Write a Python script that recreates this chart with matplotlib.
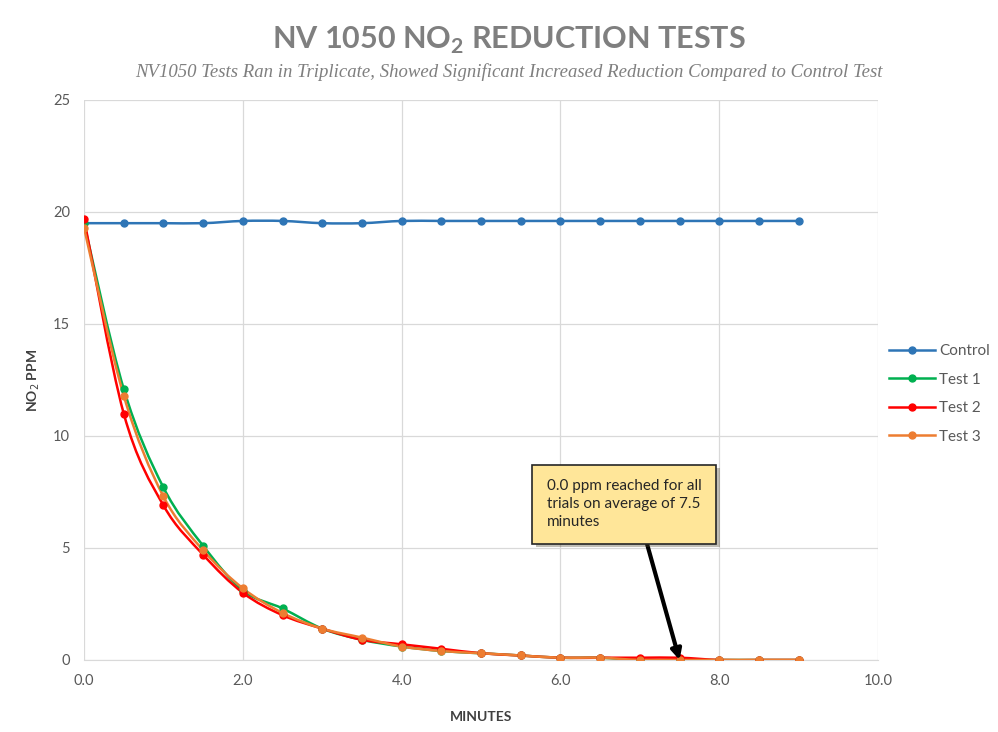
import numpy as np
import matplotlib
matplotlib.use("Agg")
import matplotlib.pyplot as plt
import matplotlib.patheffects as pe
from matplotlib.path import Path
from matplotlib.patches import PathPatch

# data
minutes = [0.0, 0.5, 1.0, 1.5, 2.0, 2.5, 3.0, 3.5, 4.0, 4.5, 5.0, 5.5, 6.0, 6.5, 7.0, 7.5, 8.0, 8.5, 9.0]
control = [19.5, 19.5, 19.5, 19.5, 19.6, 19.6, 19.5, 19.5, 19.6, 19.6, 19.6, 19.6, 19.6, 19.6, 19.6, 19.6, 19.6, 19.6, 19.6]
test1 = [19.5, 12.1, 7.7, 5.1, 3.1, 2.3, 1.4, 0.9, 0.6, 0.4, 0.3, 0.2, 0.1, 0.1, 0.0, 0.0, 0.0, 0.0, 0.0]
test2 = [19.7, 11.0, 6.9, 4.7, 3.0, 2.0, 1.4, 0.9, 0.7, 0.5, 0.3, 0.2, 0.1, 0.1, 0.1, 0.1, 0.0, 0.0, 0.0]
test3 = [19.3, 11.8, 7.3, 4.9, 3.2, 2.1, 1.4, 1.0, 0.6, 0.4, 0.3, 0.2, 0.1, 0.1, 0.0, 0.0, 0.0, 0.0, 0.0]

series = [("Control", control, "#2E75B6"),
          ("Test 1", test1, "#00B050"),
          ("Test 2", test2, "#FF0000"),
          ("Test 3", test3, "#ED7D31")]

x_ticks = [0, 2, 4, 6, 8, 10]
y_ticks = [0, 5, 10, 15, 20, 25]


def smooth_path(x, y, t=1/6):
    # excel-style smoothed line as cubic bezier segments
    x = np.asarray(x, float)
    y = np.asarray(y, float)
    verts = [(x[0], y[0])]
    codes = [Path.MOVETO]
    n = len(x)
    for i in range(n - 1):
        p0 = (x[max(i - 1, 0)], y[max(i - 1, 0)])
        p1 = (x[i], y[i])
        p2 = (x[i + 1], y[i + 1])
        p3 = (x[min(i + 2, n - 1)], y[min(i + 2, n - 1)])
        c1 = (p1[0] + (p2[0] - p0[0]) * t, p1[1] + (p2[1] - p0[1]) * t)
        c2 = (p2[0] - (p3[0] - p1[0]) * t, p2[1] - (p3[1] - p1[1]) * t)
        verts += [c1, c2, p2]
        codes += [Path.CURVE4] * 3
    return Path(verts, codes)


fig = plt.figure(figsize=(9.98, 7.32), dpi=100)
ax = fig.add_axes([0.0842, 0.0984, 0.7956, 0.765])

for name, vals, col in series:
    ax.add_patch(PathPatch(smooth_path(minutes, vals), facecolor="none",
                           edgecolor=col, lw=1.8, zorder=3))
    ax.plot(minutes, vals, ls="none", marker="o", ms=5, color=col, zorder=4)
    ax.plot([], [], color=col, lw=1.8, marker="o", ms=5, label=name)

ax.set_xlim(0, 10)
ax.set_ylim(0, 25)
ax.set_xticks(x_ticks)
ax.set_xticklabels([f"{v:.1f}" for v in x_ticks])
ax.set_yticks(y_ticks)
ax.grid(True, color="#D9D9D9", lw=0.9)
ax.set_axisbelow(True)
for s in ["top", "right", "left"]:
    ax.spines[s].set_visible(False)
ax.spines["bottom"].set_color("#D9D9D9")
ax.tick_params(length=0, labelsize=10.5, colors="#595959", pad=10)
for lbl in ax.get_xticklabels() + ax.get_yticklabels():
    lbl.set_family("Lato")

ax.set_xlabel("MINUTES", fontsize=10, fontweight="bold", color="#404040",
              family="Lato", labelpad=17)
ax.set_ylabel("NO$_2$ PPM", fontsize=10, fontweight="bold", color="#404040",
              family="Lato", labelpad=8)

fig.text(0.51, 0.945, "NV 1050 NO$_\\mathregular{2}$ REDUCTION TESTS", ha="center", va="center",
         fontsize=22, fontweight="bold", color="#7F7F7F", family="Lato")
fig.text(0.51, 0.902, "NV1050 Tests Ran in Triplicate, Showed Significant Increased Reduction Compared to Control Test",
         ha="center", va="center", fontsize=13.5, style="italic", color="#7F7F7F",
         family="Liberation Serif")

leg = ax.legend(loc="center left", bbox_to_anchor=(1.0, 0.475), frameon=False,
                fontsize=11, handlelength=3.0, handletextpad=0.3,
                labelspacing=0.95, borderaxespad=0.3)
for t in leg.get_texts():
    t.set_color("#595959")
    t.set_family("Lato")

ann = ax.annotate("0.0 ppm reached for all\ntrials on average of 7.5\nminutes",
                  xy=(7.5, 0.0), xytext=(5.83, 6.95),
                  fontsize=11, family="Lato", color="#262626", linespacing=1.35, va="center",
                  bbox=dict(boxstyle="square,pad=0.95", fc="#FFE699", ec="#262626", lw=1.2),
                  arrowprops=dict(arrowstyle="-|>", color="black", lw=3, mutation_scale=15,
                                  shrinkA=0, shrinkB=0, relpos=(0.62, 0.0)),
                  zorder=6)
ann.get_bbox_patch().set_path_effects([pe.SimplePatchShadow(offset=(2.5, -2.5), alpha=0.35),
                                       pe.Normal()])

fig.savefig("out.png", dpi=100)
